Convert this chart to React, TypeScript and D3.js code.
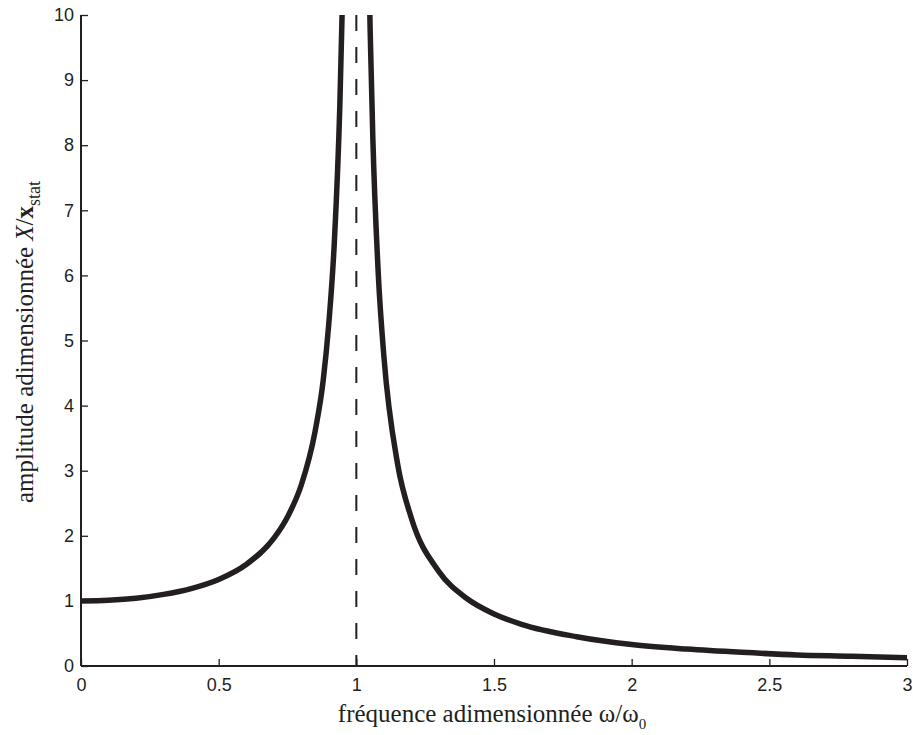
import { useRef, useEffect } from 'react';
import * as d3 from 'd3';

// values: left branch (below resonance)
const lowFreq = [0, 0.1, 0.2, 0.3, 0.4, 0.5, 0.6, 0.7, 0.75, 0.8, 0.85, 0.88, 0.9, 0.92, 0.94, 0.95, 0.96];
const lowAmp = [1, 1.01, 1.04, 1.1, 1.19, 1.33, 1.56, 1.96, 2.29, 2.78, 3.6, 4.4, 5.26, 6.5, 8.6, 10.3, 12.8];
// right branch (above resonance)
const highFreq = [1.04, 1.05, 1.06, 1.08, 1.1, 1.15, 1.2, 1.3, 1.4, 1.5, 1.6, 1.8, 2.0, 2.2, 2.4, 2.6, 2.8, 3.0];
const highAmp = [12.3, 9.8, 8.1, 6.0, 4.76, 3.1, 2.27, 1.45, 1.04, 0.8, 0.64, 0.45, 0.33, 0.26, 0.21, 0.17, 0.15, 0.125];

const xTicks = [0, 0.5, 1, 1.5, 2, 2.5, 3];
const yTicks = [0, 1, 2, 3, 4, 5, 6, 7, 8, 9, 10];
const resonance = 1;

export default function App() {
  const svgRef = useRef(null);

  useEffect(() => {
    const svg = d3.select(svgRef.current);
    svg.selectAll('*').remove();

    const ink = '#231f20';
    const left = 81, right = 907, top = 15, bottom = 666;

    const x = d3.scaleLinear().domain([0, 3]).range([left, right]);
    const y = d3.scaleLinear().domain([0, 10]).range([bottom, top]);

    svg.append('defs').append('clipPath').attr('id', 'plot')
      .append('rect').attr('x', left).attr('y', top)
      .attr('width', right - left).attr('height', bottom - top);

    // dashed line at resonance
    svg.append('line')
      .attr('x1', x(resonance)).attr('x2', x(resonance))
      .attr('y1', y(10)).attr('y2', y(0))
      .attr('stroke', ink).attr('stroke-width', 2)
      .attr('stroke-dasharray', '16,16');

    const line = d3.line<[number, number]>()
      .x(d => x(d[0]))
      .y(d => y(d[1]))
      .curve(d3.curveMonotoneX);

    const branches = [
      lowFreq.map((f, i) => [f, lowAmp[i]] as [number, number]),
      highFreq.map((f, i) => [f, highAmp[i]] as [number, number]),
    ];

    svg.append('g').attr('clip-path', 'url(#plot)')
      .selectAll('path')
      .data(branches)
      .enter()
      .append('path')
      .attr('d', d => line(d))
      .attr('fill', 'none')
      .attr('stroke', ink)
      .attr('stroke-width', 5.5);

    // axes: ticks point inward
    const xAxis = svg.append('g').attr('transform', `translate(0,${bottom})`)
      .call(d3.axisBottom(x).tickValues(xTicks).tickSize(-7).tickPadding(12)
        .tickFormat(d => String(d)));
    const yAxis = svg.append('g').attr('transform', `translate(${left},0)`)
      .call(d3.axisLeft(y).tickValues(yTicks).tickSize(-7).tickPadding(7)
        .tickFormat(d => String(d)));

    [xAxis, yAxis].forEach(ax => {
      ax.select('.domain').attr('stroke', ink).attr('stroke-width', 2);
      ax.selectAll('.tick line').attr('stroke', ink).attr('stroke-width', 1.3);
      ax.selectAll('.tick text')
        .attr('fill', ink)
        .style('font-family', '"Liberation Sans", Arial, sans-serif')
        .style('font-size', '18px');
    });
    // no end ticks on the domain path
    xAxis.select('.domain').attr('d', `M${left},0H${right}`);
    yAxis.select('.domain').attr('d', `M0,${bottom}V${top}`);

    // x label
    const xl = svg.append('text')
      .attr('x', 492).attr('y', 722)
      .attr('text-anchor', 'middle')
      .attr('fill', ink)
      .style('font-family', '"Liberation Serif", "Times New Roman", serif')
      .style('font-size', '25px');
    xl.append('tspan').text('fréquence adimensionnée ω/ω');
    xl.append('tspan').attr('dy', 7).style('font-size', '15px').text('0');

    // y label
    const yl = svg.append('text')
      .attr('transform', `translate(33,342) rotate(-90)`)
      .attr('text-anchor', 'middle')
      .attr('fill', ink)
      .style('font-family', '"Liberation Serif", "Times New Roman", serif')
      .style('font-size', '25px');
    yl.append('tspan').text('amplitude adimensionnée ');
    yl.append('tspan').style('font-style', 'italic').text('X');
    yl.append('tspan').text('/');
    yl.append('tspan').style('font-weight', 'bold').text('x');
    yl.append('tspan').attr('dy', 7).style('font-size', '18px').text('stat');
  }, []);

  return (
    <svg
      ref={svgRef}
      width={913}
      height={735}
      style={{ position: 'absolute', left: 0, top: 0, display: 'block' }}
    />
  );
}
